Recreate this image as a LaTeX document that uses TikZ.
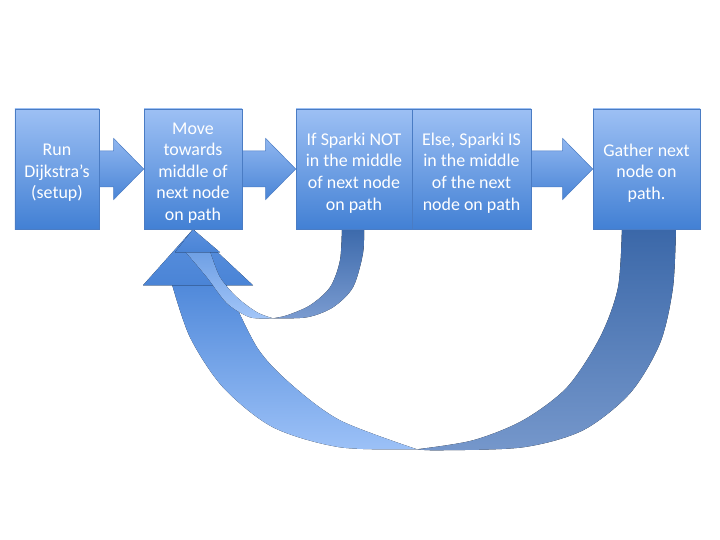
\documentclass[tikz,border=0pt]{standalone}
\usepackage{fontspec}
\setmainfont{Carlito}
\usetikzlibrary{calc,backgrounds}
\definecolor{boxtop}{HTML}{9DC0F4}
\definecolor{boxbot}{HTML}{4280D4}
\definecolor{boxline}{HTML}{4A7CC4}
\definecolor{arrtop}{HTML}{8FB6F0}
\definecolor{arrbot}{HTML}{4A85D6}
\definecolor{rdarktop}{HTML}{3A67A8}
\definecolor{rdarkbot}{HTML}{7597CB}
\definecolor{llighttop}{HTML}{5089DA}
\definecolor{llightbot}{HTML}{9CC1F7}
\definecolor{headtop}{HTML}{5A90DE}
\definecolor{headbot}{HTML}{4A84D6}
\definecolor{sdarktop}{HTML}{3A68AA}
\definecolor{sdarkbot}{HTML}{7A9BD0}
\definecolor{slighttop}{HTML}{6E9FE4}
\definecolor{slightbot}{HTML}{A3C6F8}
\begin{document}
\begin{tikzpicture}[x=1bp,y=-1bp,
  blk/.style={draw=boxline, line width=0.6bp, top color=boxtop, bottom color=boxbot,
    inner sep=0pt, minimum height=120bp},
  txt/.style={text=white, align=center, font=\fontsize{18}{21.7}\selectfont, inner sep=0pt},
  barrow/.style={draw=boxline, line width=0.5bp, top color=arrtop, bottom color=arrbot},
  ribdark/.style={top color=rdarktop, bottom color=rdarkbot},
  riblight/.style={top color=llighttop, bottom color=llightbot},
  ribhead/.style={top color=headtop, bottom color=headbot},
  sribdark/.style={top color=sdarktop, bottom color=sdarkbot},
  sriblight/.style={top color=slighttop, bottom color=slightbot},
]
\useasboundingbox (0,0) rectangle (720,540);

\node[blk, minimum width=84bp]  (b1) at (57,169)    {};
\node[blk, minimum width=98bp]  (b2) at (193,169)   {};
\node[blk, minimum width=116bp] (b3) at (354,169)   {};
\node[blk, minimum width=119bp] (b4) at (471.5,169) {};
\node[blk, minimum width=107bp] (b5) at (646.5,169) {};

\node[txt] (t1) at ($(b1.center)+(0,4)$) {Run\\Dijkstra’s\\(setup)};
\node[txt] (t2) at ($(b2.center)+(0,4)$) {Move\\towards\\middle of\\next node\\on path};
\node[txt] (t3) at ($(b3.center)+(0,4)$) {If Sparki NOT\\in the middle\\of next node\\on path};
\node[txt] (t4) at ($(b4.center)+(0,4)$) {Else, Sparki IS\\in the middle\\of the next\\node on path};
\node[txt] (t5) at ($(b5.center)+(0,4)$) {Gather next\\node on\\path.};

\begin{scope}[on background layer]
  \fill[white] (0,0) rectangle (720,540);
  % large curved arrow: from b5 back to b2
  \begin{scope}[shift={(b2.south)}]
    \fill[ribdark] plot[smooth] coordinates {(483,-4) (480,58) (467,114) (437,164) (390,201) (330,218) (247,221) (224,220)}
      -- plot[smooth] coordinates {(224,220) (280,211) (330,191) (374,158) (407,108) (425,58) (429,-4)} -- cycle;
    \fill[riblight] plot[smooth] coordinates {(-21,55) (-3,108) (30,158) (80,198) (147,218) (224,220)}
      -- plot[smooth] coordinates {(224,220) (147,191) (97,154) (64,118) (33,55)} -- cycle;
    \fill[ribhead] (-50,56) -- (0,0) -- (60,56) -- cycle;
    % small curved arrow: from b3 back to b2
    \fill[sribdark] plot[smooth] coordinates {(171,-4) (170,24) (160,58) (140,78) (114,88) (80,89)}
      -- plot[smooth] coordinates {(80,89) (94,86) (117,76) (137,58) (147,31) (149,-4)} -- cycle;
    \fill[sriblight] plot[smooth] coordinates {(-8,22) (14,48) (34,74) (57,88) (80,89)}
      -- plot[smooth] coordinates {(80,89) (64,83) (44,68) (27,48) (17,22)} -- cycle;
    \fill[ribhead] (-18,23) -- (0,0) -- (27,23) -- cycle;
  \end{scope}
  % straight block arrows
  \draw[barrow] ($(b1.east)+(-3,-18)$) -- ($(b2.west)+(-30,-18)$) -- ($(b2.west)+(-30,-30.5)$)
    -- (b2.west) -- ($(b2.west)+(-30,30.5)$) -- ($(b2.west)+(-30,18)$) -- ($(b1.east)+(-3,18)$) -- cycle;
  \draw[barrow] ($(b2.east)+(-3,-18)$) -- ($(b3.west)+(-30,-18)$) -- ($(b3.west)+(-30,-30.5)$)
    -- (b3.west) -- ($(b3.west)+(-30,30.5)$) -- ($(b3.west)+(-30,18)$) -- ($(b2.east)+(-3,18)$) -- cycle;
  \draw[barrow] ($(b4.east)+(-3,-18)$) -- ($(b5.west)+(-30,-18)$) -- ($(b5.west)+(-30,-30.5)$)
    -- (b5.west) -- ($(b5.west)+(-30,30.5)$) -- ($(b5.west)+(-30,18)$) -- ($(b4.east)+(-3,18)$) -- cycle;
\end{scope}
\end{tikzpicture}
\end{document}
